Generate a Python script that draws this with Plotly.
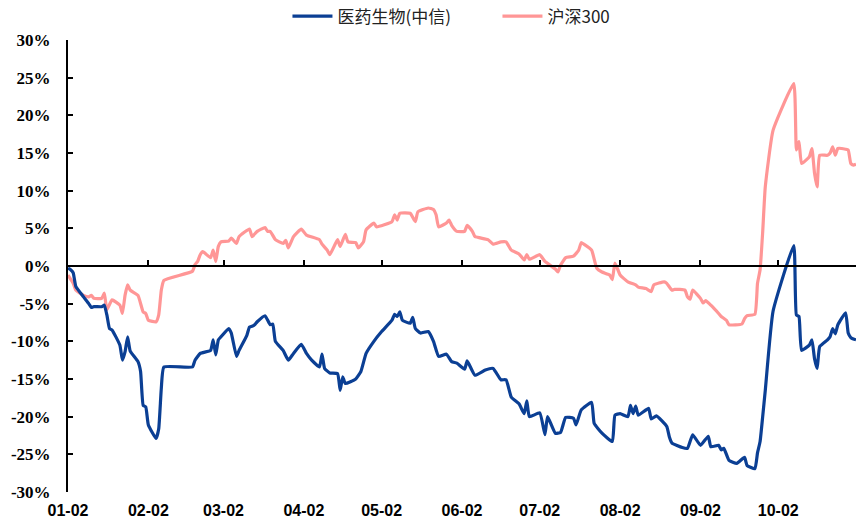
import plotly.graph_objects as go

# 2024 cumulative returns (%), 医药生物(中信) vs 沪深300
pharma_dates = [
    "2024-01-02", "2024-01-03", "2024-01-04", "2024-01-05", "2024-01-08", "2024-01-10",
    "2024-01-11", "2024-01-12", "2024-01-15", "2024-01-16", "2024-01-17", "2024-01-18",
    "2024-01-19", "2024-01-22", "2024-01-23", "2024-01-24", "2024-01-25", "2024-01-26",
    "2024-01-29", "2024-01-30", "2024-01-31", "2024-02-01", "2024-02-02", "2024-02-05",
    "2024-02-06", "2024-02-07", "2024-02-08", "2024-02-19", "2024-02-20", "2024-02-22",
    "2024-02-26", "2024-02-27", "2024-02-28", "2024-02-29", "2024-03-01", "2024-03-04",
    "2024-03-05", "2024-03-07", "2024-03-08", "2024-03-11", "2024-03-12", "2024-03-13",
    "2024-03-14", "2024-03-15", "2024-03-18", "2024-03-20", "2024-03-21", "2024-03-22",
    "2024-03-25", "2024-03-27", "2024-03-29", "2024-04-01", "2024-04-03", "2024-04-05",
    "2024-04-08", "2024-04-09", "2024-04-10", "2024-04-12", "2024-04-15", "2024-04-16",
    "2024-04-17", "2024-04-18", "2024-04-22", "2024-04-24", "2024-04-26", "2024-04-29",
    "2024-05-02", "2024-05-06", "2024-05-07", "2024-05-08", "2024-05-09", "2024-05-10",
    "2024-05-13", "2024-05-14", "2024-05-15", "2024-05-17", "2024-05-20", "2024-05-22",
    "2024-05-24", "2024-05-27", "2024-05-29", "2024-05-31", "2024-06-03", "2024-06-04",
    "2024-06-07", "2024-06-11", "2024-06-14", "2024-06-17", "2024-06-19", "2024-06-21",
    "2024-06-24", "2024-06-26", "2024-06-27", "2024-06-28", "2024-07-02", "2024-07-04",
    "2024-07-05", "2024-07-08", "2024-07-10", "2024-07-12", "2024-07-15", "2024-07-16",
    "2024-07-18", "2024-07-22", "2024-07-23", "2024-07-26", "2024-07-30", "2024-07-31",
    "2024-08-02", "2024-08-05", "2024-08-06", "2024-08-07", "2024-08-08", "2024-08-09",
    "2024-08-13", "2024-08-14", "2024-08-16", "2024-08-20", "2024-08-21", "2024-08-22",
    "2024-08-26", "2024-08-28", "2024-08-30", "2024-09-02", "2024-09-05", "2024-09-06",
    "2024-09-09", "2024-09-10", "2024-09-11", "2024-09-13", "2024-09-16", "2024-09-19",
    "2024-09-20", "2024-09-23", "2024-09-24", "2024-09-25", "2024-09-26", "2024-09-27",
    "2024-09-30", "2024-10-08", "2024-10-09", "2024-10-10", "2024-10-11", "2024-10-14",
    "2024-10-15", "2024-10-16", "2024-10-17", "2024-10-18", "2024-10-21", "2024-10-22",
    "2024-10-23", "2024-10-24", "2024-10-25", "2024-10-28", "2024-10-29", "2024-10-30",
    "2024-10-31", "2024-11-01",
]
pharma_ret = [
    -0.3, -0.5, -0.9, -2.7, -4.1, -5.0,
    -5.5, -5.4, -5.4, -5.2, -6.5, -8.3,
    -8.5, -10.5, -12.5, -11.4, -9.4, -11.3,
    -12.7, -14.0, -18.5, -18.7, -21.1, -22.9,
    -21.6, -16.2, -13.4, -13.4, -12.5, -11.6,
    -11.2, -9.8, -11.8, -9.8, -9.4, -8.3,
    -8.9, -12.0, -11.2, -9.2, -8.1, -8.0,
    -7.8, -7.4, -6.6, -7.8, -7.7, -10.0,
    -11.2, -12.5, -11.6, -10.4, -11.6, -12.5,
    -13.4, -11.7, -13.6, -14.2, -14.3, -16.5,
    -14.7, -15.6, -15.0, -14.0, -11.6, -10.0,
    -8.7, -7.2, -6.4, -6.7, -6.1, -7.2,
    -7.6, -6.8, -8.3, -8.9, -8.7, -10.0,
    -12.0, -11.7, -12.7, -12.9, -13.7, -12.6,
    -14.5, -13.8, -13.6, -15.1, -15.1, -17.4,
    -18.3, -19.6, -17.9, -20.0, -19.5, -22.4,
    -20.0, -22.2, -22.1, -20.1, -20.2, -21.1,
    -19.1, -18.1, -20.9, -22.2, -23.3, -19.8,
    -19.6, -20.0, -18.5, -19.6, -18.6, -19.8,
    -18.9, -20.3, -19.9, -21.3, -22.7, -23.5,
    -24.1, -24.2, -22.4, -23.8, -22.6, -24.0,
    -23.8, -24.4, -24.2, -25.8, -26.2, -25.4,
    -26.5, -26.9, -24.8, -23.3, -20.0, -16.5,
    -6.0, 2.7, -6.5, -6.7, -11.2, -10.5,
    -9.8, -12.3, -13.6, -10.7, -9.8, -9.4,
    -8.3, -9.0, -7.8, -6.2, -8.9, -9.5,
    -9.7, -9.8,
]

csi300_dates = [
    "2024-01-02", "2024-01-04", "2024-01-05", "2024-01-08", "2024-01-10", "2024-01-11",
    "2024-01-12", "2024-01-15", "2024-01-16", "2024-01-17", "2024-01-19", "2024-01-22",
    "2024-01-23", "2024-01-24", "2024-01-25", "2024-01-26", "2024-01-29", "2024-01-31",
    "2024-02-01", "2024-02-02", "2024-02-05", "2024-02-06", "2024-02-07", "2024-02-08",
    "2024-02-19", "2024-02-20", "2024-02-21", "2024-02-22", "2024-02-23", "2024-02-26",
    "2024-02-27", "2024-02-28", "2024-02-29", "2024-03-01", "2024-03-04", "2024-03-05",
    "2024-03-07", "2024-03-08", "2024-03-12", "2024-03-13", "2024-03-15", "2024-03-18",
    "2024-03-19", "2024-03-20", "2024-03-22", "2024-03-25", "2024-03-26", "2024-03-27",
    "2024-03-29", "2024-04-01", "2024-04-03", "2024-04-08", "2024-04-09", "2024-04-11",
    "2024-04-12", "2024-04-15", "2024-04-16", "2024-04-18", "2024-04-19", "2024-04-22",
    "2024-04-23", "2024-04-25", "2024-04-26", "2024-04-29", "2024-04-30", "2024-05-06",
    "2024-05-07", "2024-05-08", "2024-05-09", "2024-05-13", "2024-05-15", "2024-05-16",
    "2024-05-20", "2024-05-22", "2024-05-23", "2024-05-24", "2024-05-27", "2024-05-28",
    "2024-05-29", "2024-05-31", "2024-06-03", "2024-06-04", "2024-06-06", "2024-06-07",
    "2024-06-12", "2024-06-14", "2024-06-17", "2024-06-19", "2024-06-21", "2024-06-24",
    "2024-06-26", "2024-06-27", "2024-06-28", "2024-07-02", "2024-07-04", "2024-07-08",
    "2024-07-09", "2024-07-10", "2024-07-12", "2024-07-15", "2024-07-17", "2024-07-18",
    "2024-07-19", "2024-07-22", "2024-07-24", "2024-07-26", "2024-07-29", "2024-07-30",
    "2024-07-31", "2024-08-02", "2024-08-05", "2024-08-08", "2024-08-09", "2024-08-12",
    "2024-08-14", "2024-08-15", "2024-08-19", "2024-08-20", "2024-08-22", "2024-08-23",
    "2024-08-27", "2024-08-28", "2024-08-29", "2024-08-30", "2024-09-02", "2024-09-03",
    "2024-09-04", "2024-09-06", "2024-09-09", "2024-09-10", "2024-09-12", "2024-09-13",
    "2024-09-18", "2024-09-19", "2024-09-20", "2024-09-23", "2024-09-24", "2024-09-25",
    "2024-09-26", "2024-09-27", "2024-09-30", "2024-10-08", "2024-10-09", "2024-10-10",
    "2024-10-11", "2024-10-14", "2024-10-15", "2024-10-16", "2024-10-17", "2024-10-18",
    "2024-10-21", "2024-10-22", "2024-10-23", "2024-10-24", "2024-10-25", "2024-10-28",
    "2024-10-29", "2024-10-30", "2024-10-31", "2024-11-01",
]
csi300_ret = [
    -1.2, -2.3, -3.2, -3.9, -4.1, -3.9,
    -4.3, -4.3, -3.6, -5.8, -4.5, -5.2,
    -6.3, -3.9, -2.5, -3.2, -3.9, -6.1,
    -6.3, -7.2, -7.4, -6.5, -3.2, -1.9,
    -0.7, 0.2, 0.6, 1.5, 1.9, 1.1,
    2.1, 0.6, 2.6, 3.2, 3.3, 3.7,
    3.0, 3.9, 4.9, 3.9, 4.6, 5.1,
    4.6, 4.6, 3.5, 3.0, 3.4, 2.4,
    3.9, 4.9, 4.1, 3.5, 2.9, 2.1,
    1.5, 3.5, 2.6, 4.2, 3.2, 3.1,
    2.4, 3.2, 4.8, 5.7, 5.2, 5.9,
    6.8, 6.1, 7.0, 7.0, 5.9, 7.2,
    7.7, 7.5, 6.8, 5.2, 5.7, 6.1,
    5.4, 4.6, 4.6, 5.4, 4.6, 3.9,
    3.5, 2.9, 3.2, 3.2, 2.1, 1.6,
    0.8, 1.5, 0.9, 1.5, 0.6, -0.4,
    -0.8, 0.1, 1.1, 1.3, 2.1, 3.1,
    2.9, 2.1, -0.3, -0.8, -1.2, -1.8,
    0.4, -1.2, -2.1, -2.5, -2.8, -3.0,
    -3.4, -2.5, -2.1, -2.3, -3.2, -3.1,
    -3.2, -4.1, -4.4, -3.2, -4.3, -4.9,
    -4.6, -5.2, -6.3, -6.7, -7.2, -7.8,
    -7.7, -7.0, -6.6, -6.4, -2.3, -0.5,
    4.5, 10.5, 18.0, 24.2, 15.4, 16.5,
    13.6, 14.5, 15.6, 12.3, 10.5, 14.7,
    14.7, 15.0, 15.8, 14.7, 15.6, 15.5,
    15.4, 13.6, 13.4, 13.5,
]

# Axis ticks
x_tick_dates = ["2024-01-02", "2024-02-02", "2024-03-02", "2024-04-02", "2024-05-02",
                "2024-06-02", "2024-07-02", "2024-08-02", "2024-09-02", "2024-10-02"]
x_tick_labels = ["01-02", "02-02", "03-02", "04-02", "05-02",
                 "06-02", "07-02", "08-02", "09-02", "10-02"]
y_tick_vals = [30, 25, 20, 15, 10, 5, 0, -5, -10, -15, -20, -25, -30]
y_tick_labels = ["30%", "25%", "20%", "15%", "10%", "5%", "0%",
                 "-5%", "-10%", "-15%", "-20%", "-25%", "-30%"]

BLUE = "#0B3F94"
PINK = "#FF9696"
X_RANGE = ["2024-01-02", "2024-11-01"]

fig = go.Figure()
fig.add_trace(go.Scatter(
    x=pharma_dates, y=pharma_ret, name="医药生物(中信)", mode="lines",
    line=dict(color=BLUE, width=3.2, shape="spline", smoothing=0.4),
    xaxis="x2", yaxis="y",
))
fig.add_trace(go.Scatter(
    x=csi300_dates, y=csi300_ret, name="沪深300", mode="lines",
    line=dict(color=PINK, width=3.2, shape="spline", smoothing=0.4),
    xaxis="x", yaxis="y",
))

fig.update_layout(
    width=858, height=524,
    margin=dict(l=68, r=2, t=40, b=32, autoexpand=False),
    paper_bgcolor="white", plot_bgcolor="white",
    showlegend=True,
    legend=dict(
        orientation="h", x=0.545, xanchor="center", y=1.052, yanchor="middle",
        font=dict(family="Noto Sans CJK SC", size=17, color="#222222"),
        bgcolor="rgba(0,0,0,0)", itemwidth=40, traceorder="normal",
        entrywidth=155, entrywidthmode="pixels",
    ),
    # bottom axis: date labels only
    xaxis=dict(
        type="date", range=X_RANGE,
        tickvals=x_tick_dates, ticktext=x_tick_labels,
        showline=False, ticks="", showgrid=False, zeroline=False,
        tickfont=dict(family="Liberation Sans", size=16, color="black", weight="bold"),
        ticklabelstandoff=7, automargin=False,
    ),
    # axis line drawn through y = 0 with upward ticks
    xaxis2=dict(
        type="date", range=X_RANGE, overlaying="x", matches="x",
        anchor="free", position=0.5,
        tickvals=x_tick_dates, showticklabels=False,
        showline=True, linecolor="black", linewidth=2,
        ticks="inside", ticklen=5, tickwidth=2, tickcolor="black",
        showgrid=False, zeroline=False,
    ),
    yaxis=dict(
        range=[-30, 30], tickvals=y_tick_vals, ticktext=y_tick_labels,
        showline=True, linecolor="black", linewidth=2,
        ticks="inside", ticklen=5, tickwidth=2, tickcolor="black",
        showgrid=False, zeroline=False,
        tickfont=dict(family="Liberation Serif", size=17, color="black", weight="bold"),
        ticklabelstandoff=12, automargin=False,
    ),
)

fig.write_html("out.html")
